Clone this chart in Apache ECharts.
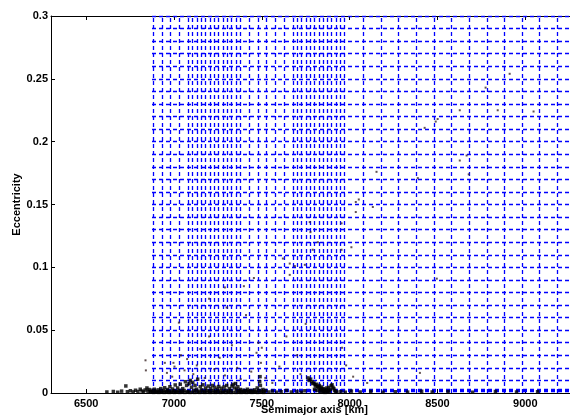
<!DOCTYPE html>
<html>
<head>
<meta charset="utf-8">
<script src="https://cdn.jsdelivr.net/npm/echarts@6/dist/echarts.min.js"></script>
<style>
  html, body { margin: 0; padding: 0; background: #fff; }
  #chart { width: 570px; height: 419px; }
</style>
</head>
<body>
<div id="chart"></div>
<script>
// Axis ranges and tick values
var xRange = [6300, 9300];
var yRange = [0, 0.3];
var xTickValues = [6500, 7000, 7500, 8000, 8500, 9000];

// Semimajor axis values (km) of the vertical grid curves
var gridSemimajor = [
  6882, 6933, 6981, 7030,
  7081, 7106, 7130, 7155, 7179, 7204, 7229, 7253, 7278, 7302, 7327, 7352, 7376,
  7428, 7479, 7527, 7578, 7627,
  7678, 7702, 7727, 7751, 7776, 7800, 7825, 7849, 7874, 7898, 7923, 7947, 7972,
  8076, 8181, 8279, 8380, 8479, 8580, 8679, 8782, 8882, 8983, 9082, 9182, 9282
];

// Eccentricity values of the horizontal grid curves
var gridEccentricity = [
  0.001, 0.002, 0.003,
  0.01, 0.02, 0.03, 0.04, 0.05, 0.06, 0.07, 0.08, 0.09, 0.10,
  0.11, 0.12, 0.13, 0.14, 0.15, 0.16, 0.17, 0.18, 0.19, 0.20,
  0.21, 0.22, 0.23, 0.24, 0.25, 0.26, 0.27, 0.28, 0.29, 0.30
];
var gridEccStartA = 6875;

// Orbits concentrated near zero eccentricity [a (km), e]
var nearCircular = [
  [6618,0.0008],[6655,0.0012],[6680,0.0006],[6702,0.0015],[6726,0.0056],[6735,0.0010],
  [6752,0.0018],[6768,0.0009],[6781,0.0022],[6795,0.0012],[6808,0.0030],[6818,0.0016],
  [6827,0.0008],[6836,0.0024],[6846,0.0040],[6852,0.0014],[6858,0.0028],
  [6865,0.0010],[6872,0.0022],[6880,0.0008],[6888,0.0030],[6895,0.0015],[6903,0.0006],
  [6910,0.0025],[6918,0.0012],[6925,0.0035],[6932,0.0008],[6940,0.0020],[6947,0.0042],
  [6955,0.0010],[6962,0.0028],[6970,0.0015],[6977,0.0050],[6985,0.0008],[6992,0.0032],
  [7000,0.0018],[7007,0.0064],[7014,0.0010],[7021,0.0040],[7029,0.0022],[7036,0.0070],
  [7043,0.0012],[7050,0.0035],[7058,0.0020],[7065,0.0090],[7072,0.0060],[7080,0.0012],
  [7086,0.0075],[7093,0.0100],[7100,0.0045],[7107,0.0085],[7114,0.0020],[7120,0.0060],
  [7128,0.0030],[7135,0.0110],[7142,0.0015],[7150,0.0050],[7158,0.0025],[7165,0.0065],
  [7172,0.0010],[7180,0.0040],[7188,0.0020],[7195,0.0055],[7203,0.0012],[7210,0.0035],
  [7218,0.0060],[7225,0.0018],[7233,0.0045],[7240,0.0010],[7248,0.0030],[7255,0.0052],
  [7263,0.0015],[7270,0.0038],[7278,0.0008],[7285,0.0048],[7292,0.0022],[7300,0.0060],
  [7308,0.0012],[7315,0.0035],[7322,0.0020],[7330,0.0055],[7337,0.0068],[7344,0.0040],
  [7350,0.0075],[7357,0.0030],[7364,0.0050],[7371,0.0015],[7378,0.0028],[7386,0.0010],
  [7394,0.0022],[7402,0.0008],[7410,0.0018],[7418,0.0030],[7426,0.0010],[7434,0.0020],
  [7442,0.0008],[7450,0.0015],[7458,0.0025],[7466,0.0010],[7474,0.0040],[7482,0.0020],
  [7488,0.0090],[7490,0.0130],[7492,0.0060],[7498,0.0015],[7506,0.0028],[7514,0.0010],
  [7520,0.0020],
  [6868,0.0006],[6884,0.0005],[6899,0.0007],[6914,0.0005],[6929,0.0006],[6944,0.0005],
  [6958,0.0007],[6973,0.0005],[6988,0.0006],[7003,0.0005],[7018,0.0007],[7033,0.0005],
  [7047,0.0006],[7062,0.0005],[7077,0.0007],[7091,0.0005],[7104,0.0006],[7118,0.0005],
  [7132,0.0007],[7146,0.0005],[7161,0.0006],[7176,0.0005],[7191,0.0007],[7206,0.0005],
  [7221,0.0006],[7236,0.0005],[7251,0.0007],[7266,0.0005],[7281,0.0006],[7296,0.0005],
  [7311,0.0007],[7326,0.0005],[7340,0.0006],[7354,0.0005],[7368,0.0007],[7382,0.0005],
  [7397,0.0006],[7412,0.0005],[7428,0.0007],[7444,0.0005],[7460,0.0006],[7476,0.0005],
  [7494,0.0007],[7510,0.0005],
  [7763,0.0120],[7770,0.0100],[7778,0.0110],[7785,0.0090],[7790,0.0075],[7797,0.0080],
  [7803,0.0065],[7808,0.0055],[7812,0.0070],[7818,0.0050],[7822,0.0045],[7828,0.0060],
  [7832,0.0038],[7836,0.0030],[7840,0.0048],[7845,0.0025],[7850,0.0035],[7855,0.0018],
  [7860,0.0028],[7865,0.0012],[7870,0.0022],[7875,0.0008],[7880,0.0018],[7885,0.0010],
  [7890,0.0030],[7895,0.0058],[7900,0.0065],[7905,0.0045],[7910,0.0035],[7915,0.0020],
  [7920,0.0012],[7928,0.0008],[7842,0.0010],[7850,0.0007],[7830,0.0015],[7815,0.0020],
  [7800,0.0030],[7860,0.0005],[7870,0.0040],[7880,0.0045],
  [7540,0.0008],[7560,0.0015],[7585,0.0006],[7610,0.0010],[7640,0.0020],[7668,0.0008],
  [7700,0.0012],[7725,0.0006],[7745,0.0018],[7950,0.0010],[7975,0.0006],[8010,0.0015],
  [8060,0.0008],[8120,0.0012],[8190,0.0006],[8260,0.0010],[8330,0.0007],[8410,0.0014],
  [8470,0.0008],[8560,0.0010],[8700,0.0006],[8830,0.0012],[8950,0.0008],[9070,0.0010]
];

// Scattered orbits at higher eccentricity [a (km), e]
var eccentric = [
  [6838,0.026],[6840,0.018],[6948,0.024],[6997,0.024],[7003,0.021],[6960,0.016],
  [6990,0.013],[7028,0.056],[7040,0.030],[7060,0.018],[7075,0.027],[7110,0.015],
  [7130,0.022],[7150,0.035],[7175,0.012],[7200,0.045],[7230,0.019],[7260,0.028],
  [7290,0.014],[7330,0.038],[7360,0.020],[7380,0.011],[7410,0.062],[7440,0.017],
  [7470,0.032],[7480,0.040],[7495,0.024],[7500,0.036],[7520,0.012],[7560,0.008],
  [7600,0.021],[7640,0.045],[7700,0.030],[7720,0.015],[7750,0.055],[7957,0.036],
  [7980,0.022],[8020,0.013],[8100,0.008],[8400,0.016],
  [7200,0.075],[7300,0.068],[7290,0.084],[7398,0.085],[7455,0.0915],
  [7773,0.136],[7777,0.128],[7819,0.120],[7790,0.114],[7620,0.107],[7659,0.103],
  [7688,0.101],[7745,0.102],[7659,0.094],
  [8153,0.176],[8388,0.171],[8627,0.185],[8666,0.189],[8678,0.174],[8035,0.152],
  [8052,0.154],[8132,0.148],[8035,0.144],[7954,0.135],[8010,0.116],[7954,0.114],
  [8496,0.091],
  [8911,0.254],[8774,0.243],[8627,0.225],[8843,0.225],[9047,0.224],[8490,0.216],
  [8501,0.218],[8427,0.211]
];

var FONT = 'Liberation Sans';

var gridLines = gridSemimajor.map(function (a) {
  return { coords: [[a, yRange[0]], [a, yRange[1]]] };
}).concat(gridEccentricity.map(function (e) {
  return { coords: [[gridEccStartA, e], [xRange[1], e]] };
}));

var chart = echarts.init(document.getElementById('chart'), null, { renderer: 'canvas' });

var axisText = { fontFamily: FONT, fontWeight: 'bold', fontSize: 11, color: '#000' };
var plainNumber = function (v) { return String(v); };

chart.setOption({
  animation: false,
  backgroundColor: '#fff',
  grid: { left: 51, top: 16, right: -8, bottom: 26, containLabel: false, outerBoundsMode: 'none' },
  xAxis: [{
    type: 'value',
    position: 'bottom',
    min: xRange[0], max: xRange[1],
    name: 'Semimajor axis [km]',
    nameLocation: 'middle',
    nameGap: 11,
    nameMoveOverlap: false,
    nameTextStyle: axisText,
    axisLine: { show: true, onZero: false, lineStyle: { color: '#000', width: 1 } },
    axisTick: { show: true, inside: true, length: 4, customValues: xTickValues, lineStyle: { color: '#000' } },
    axisLabel: Object.assign({ margin: 5, customValues: xTickValues, formatter: plainNumber, hideOverlap: false }, axisText),
    splitLine: { show: false }
  }, {
    type: 'value',
    position: 'top',
    min: xRange[0], max: xRange[1],
    axisLine: { show: true, onZero: false, lineStyle: { color: '#000', width: 1 } },
    axisTick: { show: true, inside: true, length: 4, customValues: xTickValues, lineStyle: { color: '#000' } },
    axisLabel: { show: false },
    splitLine: { show: false }
  }],
  yAxis: {
    type: 'value',
    min: yRange[0], max: yRange[1], interval: 0.05,
    name: 'Eccentricity',
    nameLocation: 'middle',
    nameRotate: 90,
    nameGap: 29,
    nameMoveOverlap: false,
    nameTextStyle: axisText,
    axisLine: { show: true, onZero: false, lineStyle: { color: '#000', width: 1 } },
    axisTick: { show: true, inside: true, length: 4, lineStyle: { color: '#000' } },
    axisLabel: Object.assign({ margin: 3, formatter: plainNumber }, axisText),
    splitLine: { show: false }
  },
  series: [{
    type: 'lines',
    coordinateSystem: 'cartesian2d',
    xAxisIndex: 0,
    yAxisIndex: 0,
    data: gridLines,
    lineStyle: { color: '#0000ff', width: 1.3, type: [4, 3], opacity: 1, curveness: 0 },
    silent: true,
    z: 2
  }, {
    type: 'scatter',
    name: 'near-circular',
    data: nearCircular,
    symbol: 'rect',
    symbolSize: 3.5,
    itemStyle: { color: '#000' },
    silent: true,
    z: 3
  }, {
    type: 'scatter',
    name: 'eccentric',
    data: eccentric,
    symbol: 'rect',
    symbolSize: 2,
    itemStyle: { color: '#3a2626' },
    silent: true,
    z: 3
  }]
});
</script>
</body>
</html>
